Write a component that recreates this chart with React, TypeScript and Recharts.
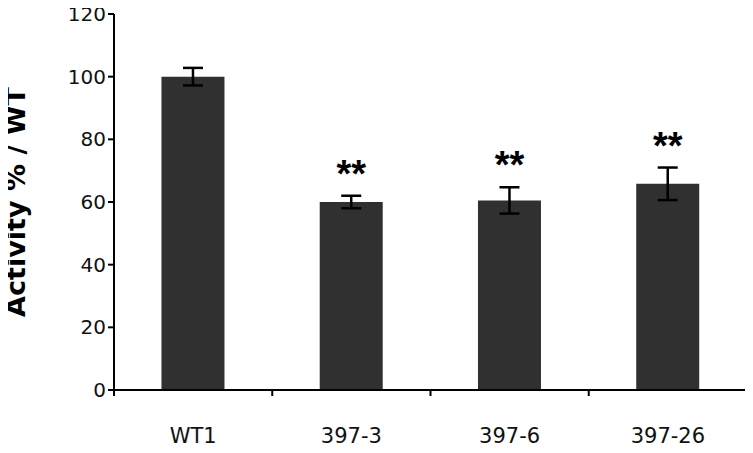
import { Bar, BarChart, ErrorBar, LabelList, XAxis, YAxis } from 'recharts';

const categories = ['WT1', '397-3', '397-6', '397-26'];
const activity = [100, 60, 60.5, 65.8];
const errors = [2.8, 2, 4.2, 5.2];
const significance = ['', '**', '**', '**'];
const yTicks = [0, 20, 40, 60, 80, 100, 120];

const data = categories.map((name, i) => ({
  name,
  activity: activity[i],
  err: errors[i],
}));

const FONT = '"DejaVu Sans", "Liberation Sans", Arial, sans-serif';

function StarLabel(props: any) {
  const { x, y, width, height, value, index } = props;
  const mark = significance[index];
  if (!mark) return null;
  const pxPerUnit = height / value;
  const top = y - errors[index] * pxPerUnit;
  return (
    <text
      x={x + width / 2}
      y={top - 9}
      textAnchor="middle"
      fontFamily='"Liberation Sans", Arial, sans-serif'
      fontWeight="bold"
      fontSize={38}
      fill="#000"
    >
      {mark}
    </text>
  );
}

// Excel-style category axis: tick marks sit on the boundaries between categories
function CategoryTick(props: any) {
  const { x, y, payload, index } = props;
  const half = payload?.offset ?? 0;
  const last = index === categories.length - 1;
  return (
    <g>
      <line x1={x - half} x2={x - half} y1={y} y2={y + 6} stroke="#000" strokeWidth={2} />
      {last && <line x1={x + half} x2={x + half} y1={y} y2={y + 6} stroke="#000" strokeWidth={2} />}
      <text x={x} y={y + 53} textAnchor="middle" fontFamily={FONT} fontSize={21} fill="#111">
        {payload.value}
      </text>
    </g>
  );
}

export default function App() {
  return (
    <div style={{ margin: -8, background: '#fff', width: 753, height: 453 }}>
      <BarChart
        width={753}
        height={453}
        data={data}
        margin={{ top: 14, right: 6, bottom: 0, left: 0 }}
        barCategoryGap="30%"
      >
        <XAxis
          dataKey="name"
          height={63}
          stroke="#000"
          strokeWidth={2}
          tickLine={false}
          tickSize={0}
          tickMargin={0}
          tick={<CategoryTick />}
          interval={0}
        />
        <YAxis
          width={114}
          domain={[0, 120]}
          ticks={yTicks}
          stroke="#000"
          strokeWidth={2}
          tickSize={6}
          tick={{ fill: '#111', fontSize: 20, fontFamily: FONT }}
          label={{
            value: 'Activity % / WT',
            angle: -90,
            position: 'insideLeft',
            dx: 10,
            style: { fontFamily: FONT, fontWeight: 'bold', fontSize: 27, fill: '#000', textAnchor: 'middle' },
          }}
        />
        <Bar dataKey="activity" fill="#303030" isAnimationActive={false}>
          <ErrorBar dataKey="err" width={10} stroke="#000" strokeWidth={2.5} />
          <LabelList dataKey="activity" content={StarLabel} />
        </Bar>
      </BarChart>
    </div>
  );
}
